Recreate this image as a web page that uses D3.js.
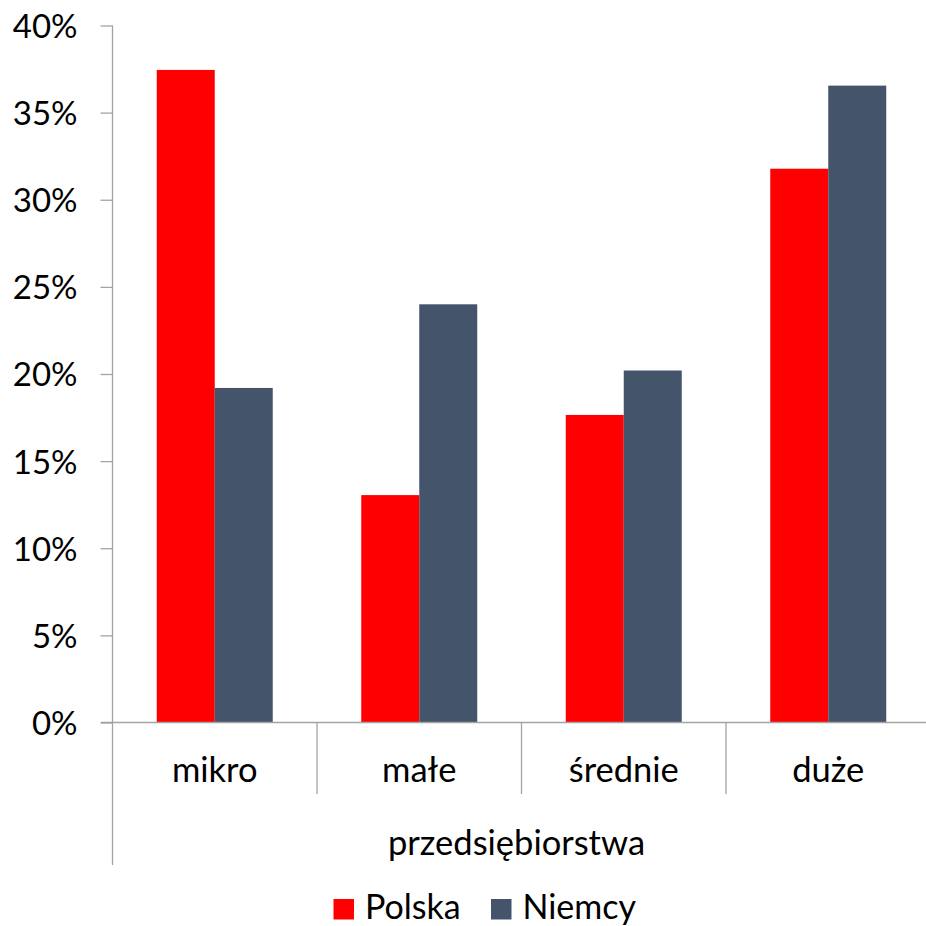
<!DOCTYPE html>
<html><head><meta charset="utf-8">
<script src="https://cdn.jsdelivr.net/npm/d3@7"></script>
<style>
html,body{margin:0;padding:0;background:#fff;}
svg{display:block;}
text{font-family:Lato,"Open Sans",sans-serif;fill:#000;}
</style></head>
<body>
<svg id="chart" width="926" height="926"></svg>
<script>
const categories = ["mikro", "małe", "średnie", "duże"];
const seriesNames = ["Polska", "Niemcy"];
const polska = [0.3745, 0.1305, 0.1765, 0.3178];
const niemcy = [0.1920, 0.2400, 0.2020, 0.3655];
const yTicks = [0, 0.05, 0.10, 0.15, 0.20, 0.25, 0.30, 0.35, 0.40];
const axisTitle = "przedsiębiorstwa";
const colors = ["#FF0000", "#44546A"];

(function () {
const svg = d3.select("#chart");
const axisColor = "#A3A3A3";
const pLeft = 112.5, pRight = 930.5, pTop = 25.5, pBottom = 722.5;

const x0 = d3.scaleBand().domain(categories).range([pLeft, pRight]).padding(0);
const x1 = d3.scaleBand().domain(seriesNames).range([0, x0.bandwidth()]).paddingInner(0).paddingOuter(0.763);
const y = d3.scaleLinear().domain([0, 0.4]).range([pBottom, pTop]);

const data = categories.map((c, i) => ({cat: c, vals: [polska[i], niemcy[i]]}));

// bars
const g = svg.append("g");
g.selectAll("g.grp").data(data).join("g")
  .attr("transform", d => `translate(${x0(d.cat)},0)`)
  .selectAll("rect").data(d => d.vals.map((v, j) => ({s: seriesNames[j], v, j})))
  .join("rect")
  .attr("x", d => x1(d.s))
  .attr("width", x1.bandwidth())
  .attr("y", d => y(d.v))
  .attr("height", d => y(0) - y(d.v))
  .attr("fill", d => colors[d.j]);

// y axis
const yAxis = d3.axisLeft(y).tickValues(yTicks).tickFormat(d3.format(".0%")).tickSize(12).tickPadding(23);
const ya = svg.append("g").attr("transform", `translate(${pLeft},0)`).call(yAxis);
ya.select(".domain").remove();
ya.selectAll(".tick line").attr("stroke", axisColor).attr("stroke-width", 1.3);
ya.selectAll(".tick text").attr("font-size", 33).attr("font-family", "Lato, sans-serif").attr("fill", "#000").attr("dy", "0.36em");
svg.append("line").attr("x1", pLeft).attr("x2", pLeft).attr("y1", pTop).attr("y2", 865)
  .attr("stroke", axisColor).attr("stroke-width", 1.3);

// x axis line
svg.append("line").attr("x1", 101).attr("x2", 926).attr("y1", pBottom).attr("y2", pBottom)
  .attr("stroke", axisColor).attr("stroke-width", 1.3);

// category separators
svg.selectAll("line.sep").data(categories.slice(1)).join("line")
  .attr("class", "sep")
  .attr("x1", d => x0(d)).attr("x2", d => x0(d))
  .attr("y1", pBottom).attr("y2", 794)
  .attr("stroke", axisColor).attr("stroke-width", 1.3);

// category labels
svg.selectAll("text.cat").data(categories).join("text")
  .attr("class", "cat")
  .attr("x", d => x0(d) + x0.bandwidth() / 2)
  .attr("y", 781.5)
  .attr("text-anchor", "middle")
  .attr("font-size", 34.5)
  .text(d => d);

// group title
svg.append("text").attr("x", 516.5).attr("y", 855).attr("text-anchor", "middle")
  .attr("font-size", 34.5).text(axisTitle);

// legend
const legendX = [333.5, 491];
const lg = svg.selectAll("g.leg").data(seriesNames).join("g")
  .attr("transform", (d, i) => `translate(${legendX[i]},899)`);
lg.append("rect").attr("width", 20.5).attr("height", 20.5).attr("fill", (d, i) => colors[i]);
lg.append("text").attr("x", 31.5).attr("y", 20).attr("font-size", 34).text(d => d);
})();
</script>
</body></html>
